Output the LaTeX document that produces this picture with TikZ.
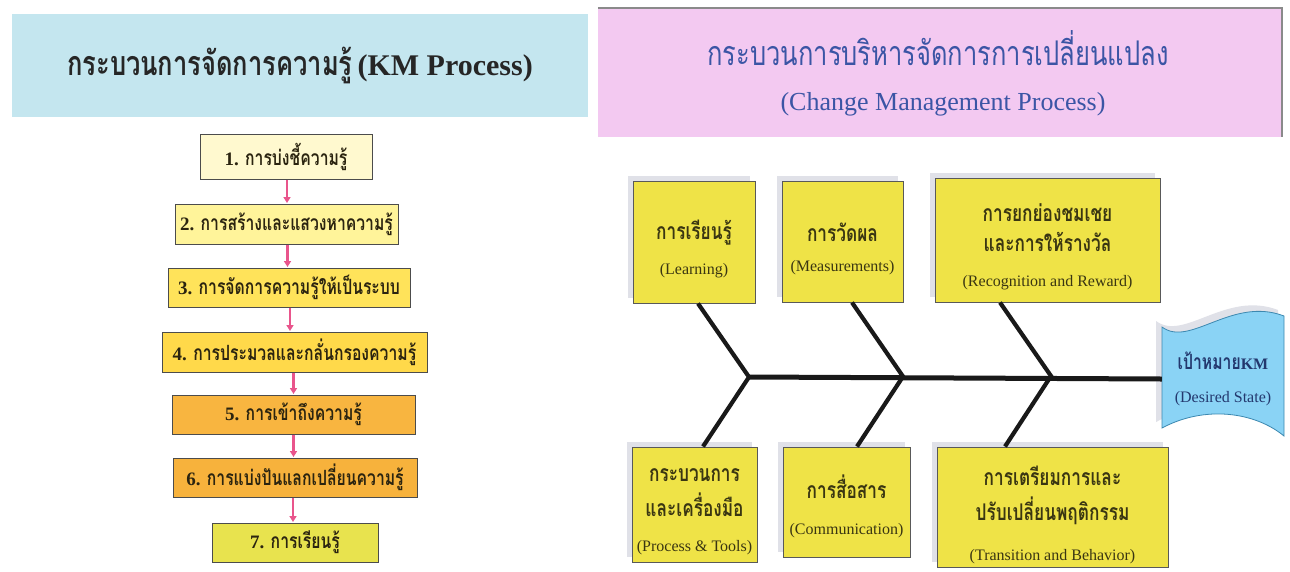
\documentclass[tikz,border=0pt]{standalone}
\usepackage{fontspec}
\setmainfont{Liberation Serif}
\newfontfamily\thai[Script=Thai,FakeStretch=0.75]{Loma}
\usetikzlibrary{arrows.meta}
\definecolor{titleblue}{HTML}{C4E6EF}
\definecolor{titlepink}{HTML}{F3C9F1}
\definecolor{pinkedge}{HTML}{8A8A8A}
\definecolor{kmA}{HTML}{FFF9CF}
\definecolor{kmB}{HTML}{FFF49A}
\definecolor{kmC}{HTML}{FFE35A}
\definecolor{kmD}{HTML}{FFD94A}
\definecolor{kmE}{HTML}{F8B540}
\definecolor{kmF}{HTML}{F7B23C}
\definecolor{kmG}{HTML}{E8E34E}
\definecolor{fishyellow}{HTML}{EFE347}
\definecolor{flagblue}{HTML}{8AD3F5}
\definecolor{flagedge}{HTML}{3C88B0}
\definecolor{arrowpink}{HTML}{E9558C}
\definecolor{boxtext}{HTML}{2B2410}
\definecolor{fishtext}{HTML}{3A3612}
\definecolor{headblue}{HTML}{3B55A5}
\definecolor{flagtext}{HTML}{23386E}
\definecolor{shadowc}{HTML}{E0E1E8}
\tikzset{
  kmbox/.style={draw=black!70, line width=1pt, inner sep=0pt, text=boxtext,
    font=\bfseries\fontsize{19}{22}\selectfont},
  kmarrow/.style={draw=arrowpink, line width=2.4pt,
    -{Triangle[width=7pt,length=6pt]}, shorten >=0.5pt},
  fishbox/.style={draw=black!65, line width=1pt, fill=fishyellow, inner sep=0pt,
    preaction={fill=shadowc, transform canvas={shift={(-5pt,5pt)}}}},
  fishtxt/.style={align=center, text=fishtext, inner sep=0pt},
  bone/.style={draw=black!90, line width=4.2pt},
  spine/.style={draw=black!90, line width=5pt},
}
\newcommand{\thtx}[1]{{\thai\fontsize{21}{24}\selectfont #1}}
\newcommand{\fthai}[1]{{\thai\bfseries\fontsize{23}{25}\selectfont #1}}
\newcommand{\latx}[1]{{\fontsize{16}{18}\selectfont #1}}
\begin{document}
\begin{tikzpicture}[x=1pt,y=-1pt]
\useasboundingbox[fill=white] (0,0) rectangle (1290,571);

% ---------- left title ----------
\node[fill=titleblue, minimum width=576pt, minimum height=103pt, inner sep=0pt,
  font=\bfseries\fontsize{30}{34}\selectfont, text=black!85] (lt) at (300,65.5)
  {{\thai\bfseries\fontsize{34}{36}\selectfont กระบวนการจัดการความรู้}\,(KM Process)};

% ---------- KM process boxes ----------
\node[kmbox, fill=kmA, minimum width=172pt, minimum height=45pt] (b1) at (286,156.5)
  {1. \thtx{การบ่งชี้ความรู้}};
\node[kmbox, fill=kmB, minimum width=223pt, minimum height=40pt] (b2) at (286.5,224)
  {2. \thtx{การสร้างและแสวงหาความรู้}};
\node[kmbox, fill=kmC, minimum width=242pt, minimum height=39pt] (b3) at (289,287.5)
  {3. \thtx{การจัดการความรู้ให้เป็นระบบ}};
\node[kmbox, fill=kmD, minimum width=265pt, minimum height=40pt] (b4) at (294.5,352)
  {4. \thtx{การประมวลและกลั่นกรองความรู้}};
\node[kmbox, fill=kmE, minimum width=243pt, minimum height=39pt] (b5) at (293.5,414.5)
  {5. \thtx{การเข้าถึงความรู้}};
\node[kmbox, fill=kmF, minimum width=244pt, minimum height=39pt] (b6) at (295,477.5)
  {6. \thtx{การแบ่งปันแลกเปลี่ยนความรู้}};
\node[kmbox, fill=kmG, minimum width=166pt, minimum height=39pt] (b7) at (295,542.5)
  {7. \thtx{การเรียนรู้}};

\draw[kmarrow] ([xshift=1pt]b1.south) -- ([xshift=1pt]b1.south |- b2.north);
\draw[kmarrow] ([xshift=1pt]b2.south) -- ([xshift=1pt]b2.south |- b3.north);
\draw[kmarrow] ([xshift=1pt]b3.south) -- ([xshift=1pt]b3.south |- b4.north);
\draw[kmarrow] ([xshift=-1pt]b4.south) -- ([xshift=-1pt]b4.south |- b5.north);
\draw[kmarrow] (b5.south) -- (b5.south |- b6.north);
\draw[kmarrow] ([xshift=-2pt]b6.south) -- ([xshift=-2pt]b6.south |- b7.north);

% ---------- right title ----------
\node[fill=titlepink, minimum width=684pt, minimum height=129pt, inner sep=0pt] (rt) at (940,72.5) {};
\draw[pinkedge, line width=1.6pt] (rt.north west) -- (rt.north east) -- (rt.south east);
\node[text=headblue, font=\thai\fontsize{34}{36}\selectfont] (rt1) at (938,48)
  {กระบวนการบริหารจัดการการเปลี่ยนแปลง};
\node[text=headblue, font=\fontsize{26}{30}\selectfont] (rt2) at (943,104)
  {(Change Management Process)};

% ---------- fishbone boxes ----------
\node[fishbox, minimum width=122pt, minimum height=122pt] (L) at (694,242) {};
\node[fishtxt] (Lt) at ([yshift=-7pt]L.center)
  {\fthai{การเรียนรู้}\\[18pt]\latx{(Learning)}};
\node[fishbox, minimum width=121pt, minimum height=121pt] (M) at (842.5,241.5) {};
\node[fishtxt] (Mt) at ([yshift=-7pt]M.center)
  {\fthai{การวัดผล}\\[18pt]\latx{(Measurements)}};
\node[fishbox, minimum width=225pt, minimum height=124pt] (R) at (1047.5,240) {};
\node[fishtxt] (Rt) at ([yshift=-7pt]R.center)
  {\fthai{การยกย่องชมเชย}\\[10pt]\fthai{และการให้รางวัล}\\[23pt]\latx{(Recognition and Reward)}};
\node[fishbox, minimum width=125pt, minimum height=115pt] (P) at (694.5,504.5) {};
\node[fishtxt] (Pt) at ([yshift=-7pt]P.center)
  {\fthai{กระบวนการ}\\[10pt]\fthai{และเครื่องมือ}\\[23pt]\latx{(Process \& Tools)}};
\node[fishbox, minimum width=127pt, minimum height=110pt] (C) at (846.5,502) {};
\node[fishtxt] (Ct) at ([yshift=-4pt]C.center)
  {\fthai{การสื่อสาร}\\[24pt]\latx{(Communication)}};
\node[fishbox, minimum width=231pt, minimum height=120pt] (T) at (1052.5,507) {};
\node[fishtxt] (Tt) at ([yshift=-8pt]T.center)
  {\fthai{การเตรียมการและ}\\[10pt]\fthai{ปรับเปลี่ยนพฤติกรรม}\\[23pt]\latx{(Transition and Behavior)}};

% ---------- desired state flag ----------
\fill[shadowc, transform canvas={shift={(-6pt,6pt)}}]
  (1162,327) .. controls (1190,348) and (1232,296) .. (1284,316)
  -- (1284,436) .. controls (1255,412) and (1205,405) .. (1162,428) -- cycle;
\filldraw[fill=flagblue, draw=flagedge, line width=0.8pt]
  (1162,327) .. controls (1190,348) and (1232,296) .. (1284,316)
  -- (1284,436) .. controls (1255,412) and (1205,405) .. (1162,428) -- cycle;
\node[text=flagtext, align=center, minimum width=122pt, minimum height=100pt, inner sep=0pt] (flag) at (1223,379)
  {{\thai\bfseries\fontsize{21}{23}\selectfont เป้าหมาย}{\bfseries\fontsize{16}{18}\selectfont KM}\\[21pt]\latx{(Desired State)}};

% ---------- fishbone lines ----------
\coordinate (j1) at (749,377);
\coordinate (j2) at (903,376.5);
\coordinate (j3) at (1051,376);
\draw[spine] (j1) -- (flag.west);
\draw[bone] ([xshift=4pt]L.south) -- (j1) -- ([xshift=8.5pt]P.north);
\draw[bone] ([xshift=9.5pt]M.south) -- (j2) -- ([xshift=10.5pt]C.north);
\draw[bone] ([xshift=-47.5pt]R.south) -- (j3) -- ([xshift=-47.5pt]T.north);
\end{tikzpicture}
\end{document}
